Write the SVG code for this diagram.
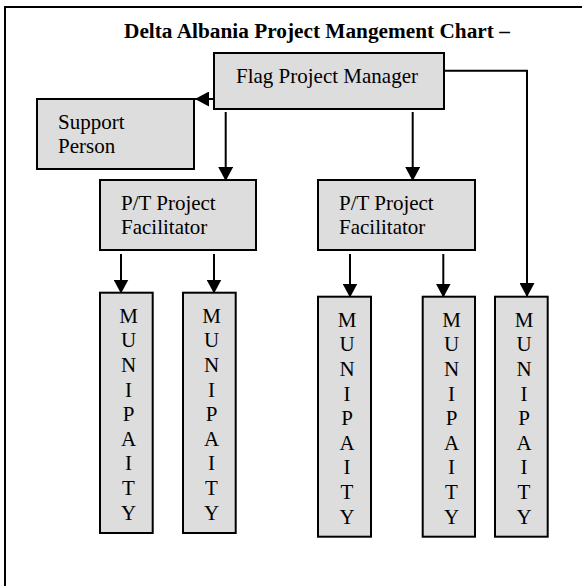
<svg xmlns="http://www.w3.org/2000/svg" width="582" height="586" viewBox="0 0 582 586">
<defs>
<marker id="ah" viewBox="0 0 14 15" refX="14" refY="7.5" markerWidth="14" markerHeight="15" markerUnits="userSpaceOnUse" orient="auto">
<path d="M0,0 L14,7.5 L0,15 Z" fill="#000"/>
</marker>
<style>
.box{fill:#dddddd;stroke:#000;stroke-width:2}
.t{font-family:"Liberation Serif","Times New Roman",serif;font-size:21px;fill:#000}
.title{font-family:"Liberation Serif","Times New Roman",serif;font-size:21.3px;font-weight:bold;fill:#000}
.c{fill:none;stroke:#000;stroke-width:2}
.v{text-anchor:middle}
</style>
</defs>
<rect width="582" height="586" fill="#fff"/>
<g id="frame"><path d="M5,600 L5,7 L590,7" fill="none" stroke="#000" stroke-width="2"/></g>
<text class="title" x="124" y="38">Delta Albania Project Mangement Chart –</text>

<g id="connectors">
<line class="c" x1="214" y1="99" x2="195" y2="99" marker-end="url(#ah)"/>
<line class="c" x1="225.7" y1="112" x2="225.7" y2="181" marker-end="url(#ah)"/>
<line class="c" x1="412.7" y1="112" x2="412.7" y2="181" marker-end="url(#ah)"/>
<polyline class="c" points="444,70.7 527,70.7 527,297" marker-end="url(#ah)"/>
<line class="c" x1="121" y1="254" x2="121" y2="293.5" marker-end="url(#ah)"/>
<line class="c" x1="214" y1="254" x2="214" y2="293.5" marker-end="url(#ah)"/>
<line class="c" x1="350" y1="254" x2="350" y2="297.5" marker-end="url(#ah)"/>
<line class="c" x1="443.3" y1="254" x2="443.3" y2="297.5" marker-end="url(#ah)"/>
</g>

<g id="flag">
<rect class="box" x="214" y="53" width="230" height="56"/>
<text class="t" x="236" y="83">Flag Project Manager</text>
</g>
<g id="support">
<rect class="box" x="37" y="99" width="157" height="70"/>
<text class="t" x="58" y="129">Support</text>
<text class="t" x="58" y="153">Person</text>
</g>
<g id="pt1">
<rect class="box" x="100" y="180" width="156" height="70"/>
<text class="t" x="121" y="210">P/T Project</text>
<text class="t" x="121" y="234">Facilitator</text>
</g>
<g id="pt2">
<rect class="box" x="318" y="180" width="157" height="70"/>
<text class="t" x="339" y="210">P/T Project</text>
<text class="t" x="339" y="234">Facilitator</text>
</g>

<g id="muni1">
<rect class="box" x="100" y="292.7" width="52.7" height="240.3"/>
<text class="t v" x="128.5" y="322.7"><tspan x="128.5">M</tspan><tspan x="128.5" dy="24.6">U</tspan><tspan x="128.5" dy="24.6">N</tspan><tspan x="128.5" dy="24.6">I</tspan><tspan x="128.5" dy="24.6">P</tspan><tspan x="128.5" dy="24.6">A</tspan><tspan x="128.5" dy="24.6">I</tspan><tspan x="128.5" dy="24.6">T</tspan><tspan x="128.5" dy="24.6">Y</tspan></text>
</g>
<g id="muni2">
<rect class="box" x="183" y="292.7" width="52.7" height="240.3"/>
<text class="t v" x="211.5" y="322.7"><tspan x="211.5">M</tspan><tspan x="211.5" dy="24.6">U</tspan><tspan x="211.5" dy="24.6">N</tspan><tspan x="211.5" dy="24.6">I</tspan><tspan x="211.5" dy="24.6">P</tspan><tspan x="211.5" dy="24.6">A</tspan><tspan x="211.5" dy="24.6">I</tspan><tspan x="211.5" dy="24.6">T</tspan><tspan x="211.5" dy="24.6">Y</tspan></text>
</g>
<g id="muni3">
<rect class="box" x="318" y="296.7" width="53" height="240"/>
<text class="t v" x="347" y="326.7"><tspan x="347">M</tspan><tspan x="347" dy="24.6">U</tspan><tspan x="347" dy="24.6">N</tspan><tspan x="347" dy="24.6">I</tspan><tspan x="347" dy="24.6">P</tspan><tspan x="347" dy="24.6">A</tspan><tspan x="347" dy="24.6">I</tspan><tspan x="347" dy="24.6">T</tspan><tspan x="347" dy="24.6">Y</tspan></text>
</g>
<g id="muni4">
<rect class="box" x="422.7" y="296.7" width="52.3" height="240"/>
<text class="t v" x="451.5" y="326.7"><tspan x="451.5">M</tspan><tspan x="451.5" dy="24.6">U</tspan><tspan x="451.5" dy="24.6">N</tspan><tspan x="451.5" dy="24.6">I</tspan><tspan x="451.5" dy="24.6">P</tspan><tspan x="451.5" dy="24.6">A</tspan><tspan x="451.5" dy="24.6">I</tspan><tspan x="451.5" dy="24.6">T</tspan><tspan x="451.5" dy="24.6">Y</tspan></text>
</g>
<g id="muni5">
<rect class="box" x="495" y="296.7" width="52.7" height="240"/>
<text class="t v" x="524" y="326.7"><tspan x="524">M</tspan><tspan x="524" dy="24.6">U</tspan><tspan x="524" dy="24.6">N</tspan><tspan x="524" dy="24.6">I</tspan><tspan x="524" dy="24.6">P</tspan><tspan x="524" dy="24.6">A</tspan><tspan x="524" dy="24.6">I</tspan><tspan x="524" dy="24.6">T</tspan><tspan x="524" dy="24.6">Y</tspan></text>
</g>
</svg>
